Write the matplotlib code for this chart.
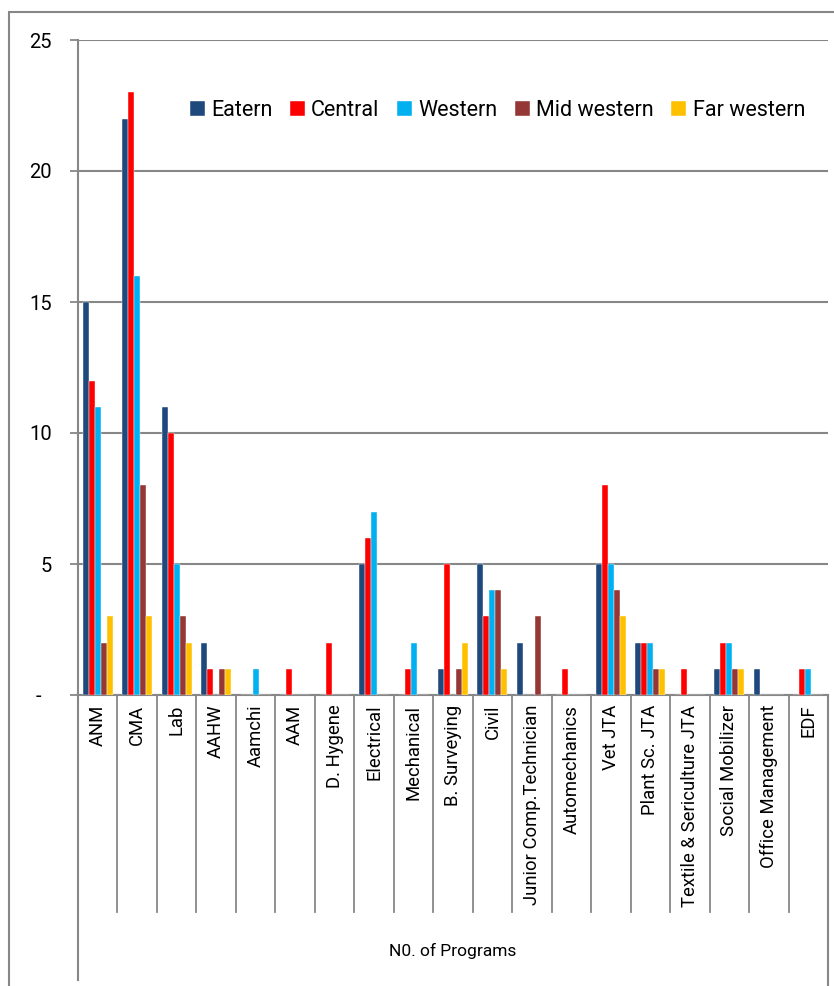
import matplotlib
matplotlib.use("Agg")
import matplotlib.pyplot as plt
from matplotlib.patches import Rectangle
import numpy as np

programs = ["ANM", "CMA", "Lab", "AAHW", "Aamchi", "AAM", "D. Hygene", "Electrical",
            "Mechanical", "B. Surveying", "Civil", "Junior Comp.Technician",
            "Automechanics", "Vet JTA", "Plant Sc. JTA", "Textile & Sericulture JTA",
            "Social Mobilizer", "Office Management", "EDF"]

regions = ["Eatern", "Central", "Western", "Mid western", "Far western"]
colors = ["#1F497D", "#FF0000", "#00B0F0", "#953735", "#FFC000"]

eastern = [15, 22, 11, 2, 0, 0, 0, 5, 0, 1, 5, 2, 0, 5, 2, 0, 1, 1, 0]
central = [12, 23, 10, 1, 0, 1, 2, 6, 1, 5, 3, 0, 1, 8, 2, 1, 2, 0, 1]
western = [11, 16, 5, 0, 1, 0, 0, 7, 2, 0, 4, 0, 0, 5, 2, 0, 2, 0, 1]
mid_western = [2, 8, 3, 1, 0, 0, 0, 0, 0, 1, 4, 3, 0, 4, 1, 0, 1, 0, 0]
far_western = [3, 3, 2, 1, 0, 0, 0, 0, 0, 2, 1, 0, 0, 3, 1, 0, 1, 0, 0]
series = [eastern, central, western, mid_western, far_western]

yticks = [0, 5, 10, 15, 20, 25]
ytick_labels = ["-  ", "5", "10", "15", "20", "25"]

grey = "#878787"
plt.rcParams["font.family"] = ["Roboto", "DejaVu Sans"]

fig = plt.figure(figsize=(8.34, 9.86), dpi=100)
ax = fig.add_axes([78 / 834, 1 - 695 / 986, 750 / 834, 655 / 986])

n = len(programs)
x = np.arange(n)
w = 0.152
for i, (vals, name, col) in enumerate(zip(series, regions, colors)):
    ax.bar(x + (i - 2) * w, vals, width=w, color=col, label=name,
           edgecolor="white", linewidth=0.3, zorder=3)

ax.set_xlim(-0.5, n - 0.5)
ax.set_ylim(0, 25)
ax.set_yticks(yticks)
ax.set_yticklabels(ytick_labels, fontsize=14.5)
ax.tick_params(axis="y", length=6, width=1.3, color=grey, pad=13)
ax.yaxis.grid(True, color=grey, linewidth=1.5, zorder=0)
ax.set_axisbelow(True)

ax.set_xticks(x)
ax.set_xticklabels(programs, rotation=90, fontsize=13.3, va="top", ha="center")
ax.tick_params(axis="x", length=0, pad=7)

for s in ["top", "right"]:
    ax.spines[s].set_visible(False)
for s in ["left", "bottom"]:
    ax.spines[s].set_color(grey)
    ax.spines[s].set_linewidth(1.5)

# category separators and the box around the axis title row
tr = ax.get_xaxis_transform()
for b in np.arange(0.5, n - 1, 1.0):
    ax.plot([b, b], [0, -217 / 655], transform=tr, color=grey, lw=1.3, clip_on=False)
ax.plot([-0.5, -0.5], [0, -285 / 655], transform=tr, color=grey, lw=1.5, clip_on=False)
ax.plot([n - 0.5, n - 0.5], [0, -300 / 655], transform=tr, color=grey, lw=1.5, clip_on=False)

ax.text((n - 1) / 2, -256 / 655, "N0. of Programs", transform=tr, ha="center", va="center",
        fontsize=12.5)

ax.legend(loc="center", bbox_to_anchor=(0.559, 0.893), ncol=5, frameon=False,
          fontsize=15.5, handlelength=0.7, handleheight=0.7, handletextpad=0.3,
          columnspacing=0.8, borderaxespad=0)

# chart frame
fig.patches.append(Rectangle((9 / 834, -0.05), 1.1, 1 - 12 / 986 + 0.05,
                             transform=fig.transFigure, fill=False,
                             edgecolor=grey, linewidth=1.5))

fig.savefig("out.png", dpi=100)
